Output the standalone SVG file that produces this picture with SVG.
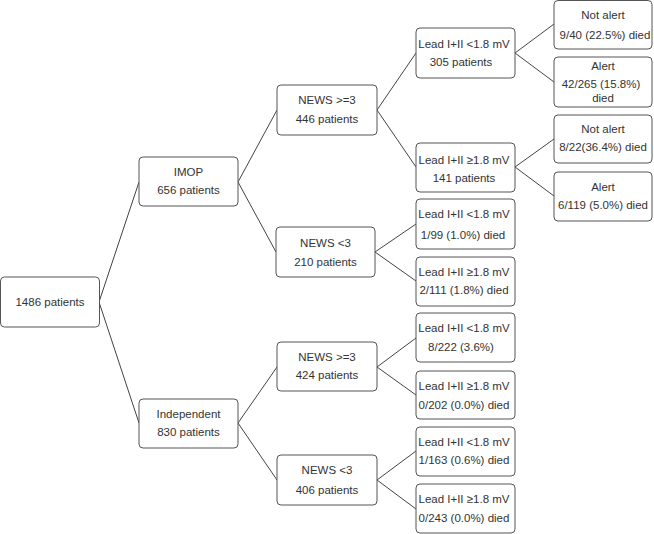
<svg xmlns="http://www.w3.org/2000/svg" width="654" height="534" viewBox="0 0 654 534">
<style>
.box{fill:#fff;stroke:#555;stroke-width:1}
text{font-family:"Liberation Sans",Arial,sans-serif;font-size:11.5px;fill:#333;text-anchor:middle}
.edge{stroke:#444;stroke-width:1;fill:none}
</style>
<rect width="654" height="534" fill="#fff"/>
<g id="connectors">
<path class="edge" d="M99,302 L139,182 M99,302 L139,423"/>
<path class="edge" d="M238,182 L277,110 M238,182 L276,252"/>
<path class="edge" d="M238,423 L277,367 M238,423 L277,480"/>
<path class="edge" d="M377,110 L416,53 M377,110 L416,167"/>
<path class="edge" d="M375,252 L416,224 M375,252 L416,281"/>
<path class="edge" d="M377,367 L416,338 M377,367 L416,395"/>
<path class="edge" d="M377,480 L416,451 M377,480 L416,509"/>
<path class="edge" d="M515,53 L554,24 M515,53 L554,82"/>
<path class="edge" d="M515,167 L554,139 M515,167 L554,196"/>
</g>
<g id="root"><rect class="box" x="0.5" y="277" width="99" height="50" rx="4"/><text x="50" y="306">1486 patients</text></g>
<g id="imop"><rect class="box" x="139" y="157" width="99" height="49" rx="4"/><text x="188.5" y="176">IMOP</text><text x="188.5" y="194">656 patients</text></g>
<g id="independent"><rect class="box" x="139" y="399" width="99" height="49" rx="4"/><text x="188.5" y="418">Independent</text><text x="188.5" y="436">830 patients</text></g>
<g id="news1"><rect class="box" x="277" y="85" width="100" height="50" rx="4"/><text x="327" y="104">NEWS &gt;=3</text><text x="327" y="123">446 patients</text></g>
<g id="news2"><rect class="box" x="276" y="227" width="99" height="50" rx="4"/><text x="325.5" y="247">NEWS &lt;3</text><text x="325.5" y="266">210 patients</text></g>
<g id="news3"><rect class="box" x="277" y="342" width="100" height="49" rx="4"/><text x="327" y="361">NEWS &gt;=3</text><text x="327" y="379">424 patients</text></g>
<g id="news4"><rect class="box" x="277" y="455" width="100" height="50" rx="4"/><text x="327" y="474">NEWS &lt;3</text><text x="327" y="494">406 patients</text></g>
<g id="lead1"><rect class="box" x="416" y="28" width="99" height="50" rx="4"/><text x="464" y="48">Lead I+II &lt;1.8 mV</text><text x="461" y="66">305 patients</text></g>
<g id="lead2"><rect class="box" x="416" y="143" width="99" height="49" rx="4"/><text x="464" y="164">Lead I+II ≥1.8 mV</text><text x="464" y="182">141 patients</text></g>
<g id="lead3"><rect class="box" x="416" y="199" width="99" height="50" rx="4"/><text x="464" y="218">Lead I+II &lt;1.8 mV</text><text x="463" y="239">1/99 (1.0%) died</text></g>
<g id="lead4"><rect class="box" x="416" y="257" width="99" height="49" rx="4"/><text x="464" y="276">Lead I+II ≥1.8 mV</text><text x="464" y="294">2/111 (1.8%) died</text></g>
<g id="lead5"><rect class="box" x="416" y="313" width="99" height="49" rx="4"/><text x="464" y="332">Lead I+II &lt;1.8 mV</text><text x="461" y="351">8/222 (3.6%)</text></g>
<g id="lead6"><rect class="box" x="416" y="371" width="99" height="48" rx="4"/><text x="464" y="390">Lead I+II ≥1.8 mV</text><text x="464" y="409">0/202 (0.0%) died</text></g>
<g id="lead7"><rect class="box" x="416" y="427" width="99" height="49" rx="4"/><text x="464" y="446">Lead I+II &lt;1.8 mV</text><text x="464" y="464">1/163 (0.6%) died</text></g>
<g id="lead8"><rect class="box" x="416" y="484" width="99" height="49" rx="4"/><text x="464" y="503">Lead I+II ≥1.8 mV</text><text x="464" y="522">0/243 (0.0%) died</text></g>
<g id="leaf1"><rect class="box" x="554" y="0.5" width="98" height="48.5" rx="4"/><text x="603" y="19">Not alert</text><text x="605" y="39">9/40 (22.5%) died</text></g>
<g id="leaf2"><rect class="box" x="554" y="57" width="98" height="50" rx="4"/><text x="603" y="70">Alert</text><text x="601" y="88">42/265 (15.8%)</text><text x="603" y="102">died</text></g>
<g id="leaf3"><rect class="box" x="554" y="115" width="98" height="48" rx="4"/><text x="603" y="133">Not alert</text><text x="603" y="151">8/22(36.4%) died</text></g>
<g id="leaf4"><rect class="box" x="554" y="172" width="98" height="49" rx="4"/><text x="603" y="191">Alert</text><text x="603" y="209">6/119 (5.0%) died</text></g>
</svg>
